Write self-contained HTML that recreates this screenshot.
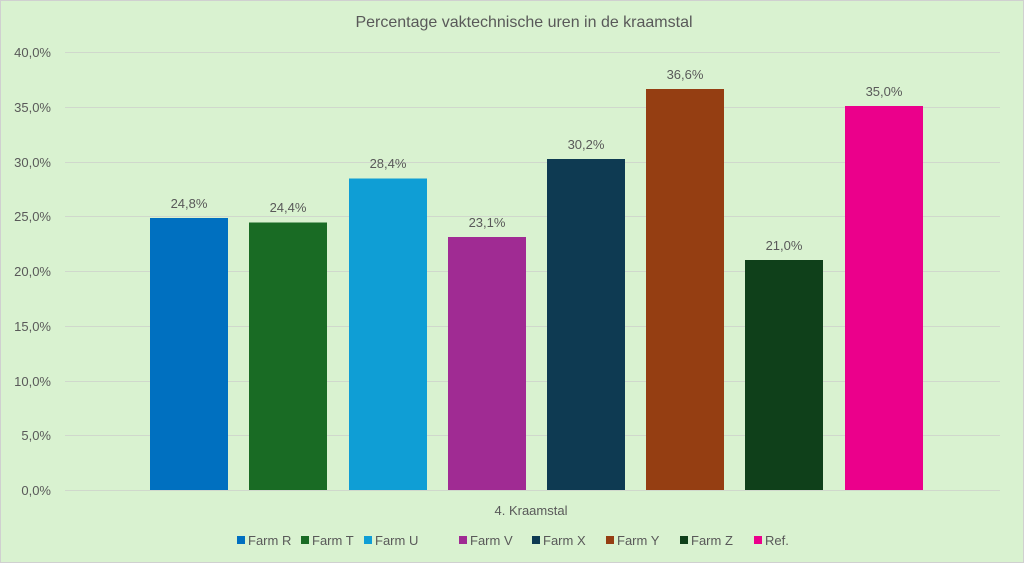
<!DOCTYPE html>
<html><head><style>body{margin:0}svg text{font-family:"Liberation Sans",sans-serif;fill:#595959}</style></head>
<body>
<svg width="1024" height="563" xmlns="http://www.w3.org/2000/svg">
<rect x="0.5" y="0.5" width="1023" height="562" fill="#d9f2d0" stroke="#d0d0d0"/>
<text x="524" y="27" font-size="16" text-anchor="middle">Percentage vaktechnische uren in de kraamstal</text>
<g stroke="#d0d8cc" stroke-width="1">
<line x1="65" x2="1000" y1="52.5" y2="52.5"/><line x1="65" x2="1000" y1="107.5" y2="107.5"/>
<line x1="65" x2="1000" y1="162.5" y2="162.5"/><line x1="65" x2="1000" y1="216.5" y2="216.5"/>
<line x1="65" x2="1000" y1="271.5" y2="271.5"/><line x1="65" x2="1000" y1="326.5" y2="326.5"/>
<line x1="65" x2="1000" y1="381.5" y2="381.5"/><line x1="65" x2="1000" y1="435.5" y2="435.5"/>
<line x1="65" x2="1000" y1="490.5" y2="490.5"/>
</g>
<g font-size="13" text-anchor="end">
<text x="51" y="57">40,0%</text><text x="51" y="112">35,0%</text><text x="51" y="167">30,0%</text>
<text x="51" y="221">25,0%</text><text x="51" y="276">20,0%</text><text x="51" y="331">15,0%</text>
<text x="51" y="386">10,0%</text><text x="51" y="440">5,0%</text><text x="51" y="495">0,0%</text>
</g>
<rect x="150" y="218" width="78" height="272" fill="#0070c0"/>
<rect x="249" y="222.5" width="78" height="267.5" fill="#196b24"/>
<rect x="349" y="178.5" width="78" height="311.5" fill="#0f9ed5"/>
<rect x="448" y="237" width="78" height="253" fill="#a02b93"/>
<rect x="547" y="159" width="78" height="331" fill="#0e3a52"/>
<rect x="646" y="89" width="78" height="401" fill="#953e12"/>
<rect x="745" y="260" width="78" height="230" fill="#0f401a"/>
<rect x="845" y="106" width="78" height="384" fill="#eb008b"/>
<g font-size="13" text-anchor="middle">
<text x="189" y="208">24,8%</text><text x="288" y="212">24,4%</text><text x="388" y="168">28,4%</text>
<text x="487" y="227">23,1%</text><text x="586" y="149">30,2%</text><text x="685" y="79">36,6%</text>
<text x="784" y="250">21,0%</text><text x="884" y="96">35,0%</text>
</g>
<text x="531" y="515" font-size="13" text-anchor="middle">4. Kraamstal</text>
<g font-size="13">
<rect x="237" y="536" width="8" height="8" fill="#0070c0"/><text x="248" y="545">Farm R</text>
<rect x="301" y="536" width="8" height="8" fill="#196b24"/><text x="312" y="545">Farm T</text>
<rect x="364" y="536" width="8" height="8" fill="#0f9ed5"/><text x="375" y="545">Farm U</text>
<rect x="459" y="536" width="8" height="8" fill="#a02b93"/><text x="470" y="545">Farm V</text>
<rect x="532" y="536" width="8" height="8" fill="#0e3a52"/><text x="543" y="545">Farm X</text>
<rect x="606" y="536" width="8" height="8" fill="#953e12"/><text x="617" y="545">Farm Y</text>
<rect x="680" y="536" width="8" height="8" fill="#0f401a"/><text x="691" y="545">Farm Z</text>
<rect x="754" y="536" width="8" height="8" fill="#eb008b"/><text x="765" y="545">Ref.</text>
</g>
</svg>
</body></html>
